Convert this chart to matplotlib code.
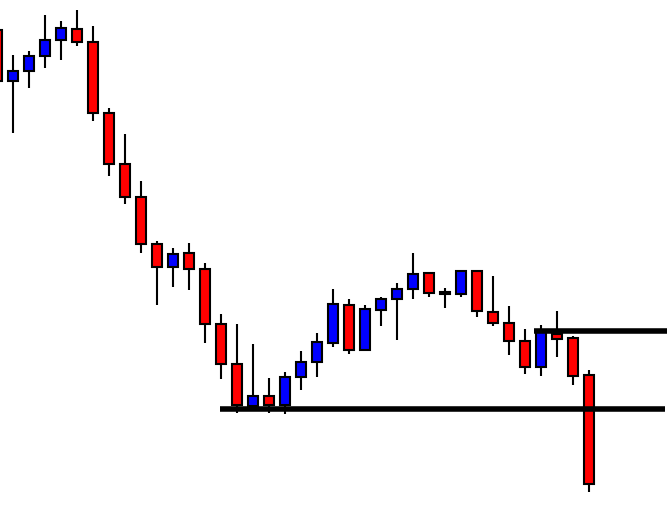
import matplotlib
matplotlib.use("Agg")
from matplotlib import pyplot as plt

# candle data (price units)
opens  = [475, 424, 434, 449, 465, 476, 463, 392, 341, 308, 261, 238, 252, 236, 181, 141, 99, 109, 100,
          128, 143, 162, 200, 155, 195, 206, 216, 232, 213, 211, 234, 193, 182, 164, 138, 171, 167, 130]
highs  = [477, 450, 454, 490, 484, 495, 479, 397, 371, 324, 264, 257, 262, 242, 191, 181, 161, 127, 133,
          154, 172, 216, 206, 200, 208, 222, 252, 233, 217, 234, 234, 229, 199, 176, 180, 194, 169, 135]
lows   = [422, 372, 417, 437, 445, 459, 384, 329, 301, 252, 200, 218, 215, 162, 126, 92, 95, 92, 91,
          115, 128, 158, 151, 155, 179, 165, 206, 208, 197, 208, 188, 179, 150, 131, 129, 148, 120, 13]
closes = [424, 434, 449, 465, 477, 463, 392, 341, 308, 261, 238, 251, 236, 181, 141, 100, 109, 100, 128,
          143, 163, 201, 155, 196, 206, 216, 231, 212, 211, 234, 194, 182, 164, 138, 174, 166, 129, 21]

# horizontal levels: (price, start index, end index)
support = (96, 13.94, 41.75)
resistance = (174, 33.56, 41.9)
# small red price marker at the right edge
marker = (77.5, 41.98, 42.1)

fig = plt.figure(figsize=(6.69, 5.05), dpi=100)
ax = fig.add_axes([0, 0, 1, 1])

x = list(range(len(opens)))
ax.vlines(x, lows, highs, color="black", linewidth=1.5, zorder=1)
for i in x:
    o, c = opens[i], closes[i]
    col = "blue" if c > o else "red"
    ax.bar(i, abs(c - o), bottom=min(o, c), width=0.62, color=col,
           edgecolor="black", linewidth=1.5, zorder=2)

ax.hlines(support[0], support[1], support[2], color="black", linewidth=4, zorder=3)
ax.hlines(resistance[0], resistance[1], resistance[2], color="black", linewidth=4, zorder=3)
ax.hlines(marker[0], marker[1], marker[2], color="red", linewidth=1.5, zorder=3)

ax.set_xlim(0.2, 42.0)
ax.set_ylim(0, 505)
ax.axis("off")

plt.savefig("out.png", dpi=100)
